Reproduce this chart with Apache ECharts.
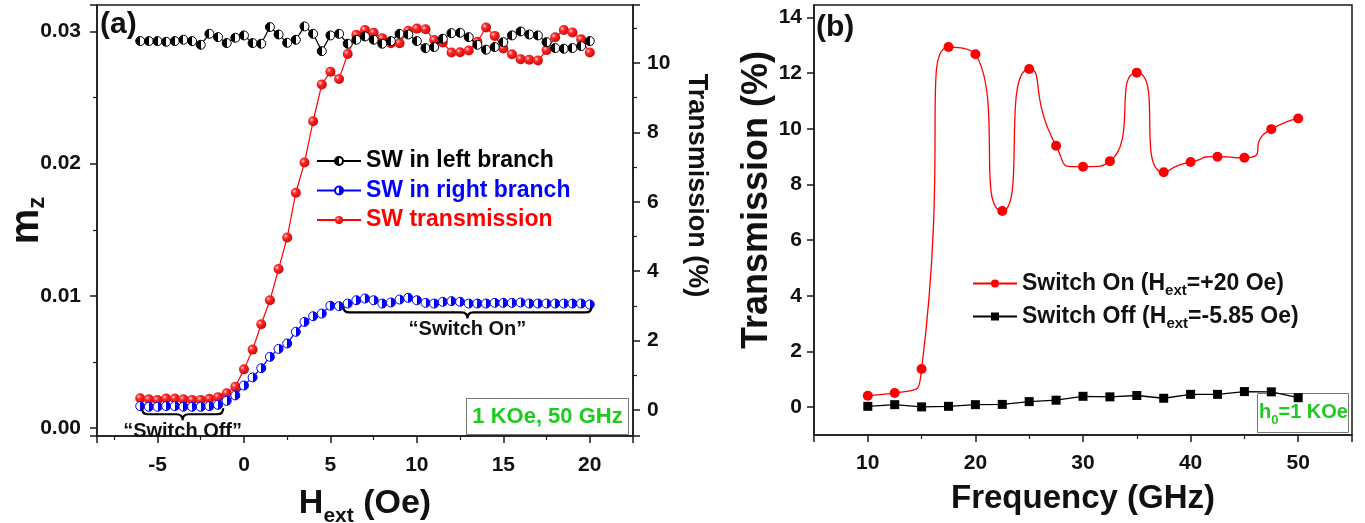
<!DOCTYPE html>
<html><head><meta charset="utf-8">
<script src="https://cdn.jsdelivr.net/npm/echarts@6/dist/echarts.min.js"></script>
<style>html,body{margin:0;padding:0;background:#fff}#c{width:1365px;height:523px}</style>
</head><body><div id="c"></div>
<script>
// ---------- Panel (a) data ----------
const hExt = [-6,-5.5,-5,-4.5,-4,-3.5,-3,-2.5,-2,-1.5,-1,-0.5,0,0.5,1,1.5,2,2.5,3,3.5,4,4.5,5,5.5,6,6.5,7,7.5,8,8.5,9,9.5,10,10.5,11,11.5,12,12.5,13,13.5,14,14.5,15,15.5,16,16.5,17,17.5,18,18.5,19,19.5,20];
const mzLeftBranch = [0.02927,0.02927,0.02927,0.02922,0.02927,0.02937,0.02927,0.02899,0.02982,0.02957,0.02912,0.02952,0.02970,0.02912,0.02907,0.03033,0.02977,0.02914,0.02937,0.03038,0.02982,0.02851,0.02970,0.02982,0.02907,0.02937,0.02962,0.02937,0.02907,0.02927,0.02982,0.02977,0.02927,0.02874,0.02882,0.02945,0.02987,0.02990,0.02957,0.02899,0.02862,0.02882,0.02919,0.02970,0.03000,0.02977,0.02970,0.02919,0.02874,0.02869,0.02874,0.02889,0.02927];
const mzRightBranch = [0.00166,0.00161,0.00161,0.00166,0.00166,0.00161,0.00161,0.00161,0.00166,0.00176,0.00206,0.00247,0.00322,0.00383,0.00453,0.00539,0.00599,0.00640,0.00728,0.00803,0.00846,0.00866,0.00925,0.00922,0.00942,0.00967,0.00980,0.00967,0.00942,0.00950,0.00972,0.00985,0.00967,0.00947,0.00942,0.00955,0.00960,0.00955,0.00942,0.00942,0.00942,0.00947,0.00947,0.00947,0.00950,0.00942,0.00942,0.00942,0.00942,0.00942,0.00942,0.00942,0.00935];
const swTransmission = [0.34,0.31,0.29,0.33,0.33,0.31,0.29,0.29,0.32,0.37,0.48,0.67,1.17,1.74,2.47,3.16,4.06,4.97,6.26,7.13,8.32,9.38,9.75,9.54,10.26,10.81,10.95,10.87,10.71,10.57,10.57,10.93,10.99,10.97,10.66,10.59,10.30,10.31,10.36,10.61,11.02,10.78,10.42,10.25,10.11,10.09,10.07,10.37,10.74,10.95,10.88,10.68,10.30];
const braceRanges = [[-5.9,-1.2,0.0015],[5.75,20.1,0.0092]];
const braceLabels = ['\u201CSwitch Off\u201D','\u201CSwitch On\u201D'];

// ---------- Panel (b) data ----------
const freq = [10,12.5,15,17.5,20,22.5,25,27.5,30,32.5,35,37.5,40,42.5,45,47.5,50];
const transOn = [0.41,0.51,1.37,12.94,12.68,7.05,12.15,9.39,8.64,8.84,12.02,8.44,8.81,9.00,8.96,9.99,10.37];
const transOff = [0.03,0.09,0.01,0.03,0.09,0.10,0.20,0.25,0.39,0.37,0.42,0.32,0.46,0.46,0.56,0.55,0.34];

const FONT = '"Liberation Sans", Arial, Helvetica, sans-serif';
const AX = '#1a1a1a';
const zip = (a, b) => a.map((v, i) => [v, b[i]]);

function half(color, leftFilled) {
  const s = leftFilled
    ? [{offset:0,color:color},{offset:0.5,color:color},{offset:0.5,color:'#fff'},{offset:1,color:'#fff'}]
    : [{offset:0,color:'#fff'},{offset:0.5,color:'#fff'},{offset:0.5,color:color},{offset:1,color:color}];
  return {type:'linear', x:0, y:0, x2:1, y2:0, colorStops:s};
}
const redBall = {type:'radial', x:0.35, y:0.35, r:0.75, colorStops:[
  {offset:0,color:'#ffd6d6'},{offset:0.3,color:'#ff2a2a'},{offset:1,color:'#c80000'}]};

function axisBase(extra) {
  return Object.assign({
    type:'value',
    axisLine:{show:true, onZero:false, lineStyle:{color:AX, width:1.5}},
    axisTick:{show:true, inside:false, length:7, lineStyle:{color:AX, width:1.5}},
    minorTick:{show:true, splitNumber:2, length:4, lineStyle:{color:AX, width:1.2}},
    splitLine:{show:false},
    minorSplitLine:{show:false}
  }, extra);
}
const lab = (margin, extra) => Object.assign({fontFamily:FONT, fontWeight:'bold', fontSize:21, color:'#111', margin:margin, showMinLabel:false, showMaxLabel:false}, extra || {});
const subStyle = (fs, lh) => ({fontSize:fs, fontWeight:'bold', fontFamily:FONT, color:'#111', lineHeight:lh, verticalAlign:'bottom'});

const chart = echarts.init(document.getElementById('c'), null, {renderer:'canvas'});
const option = {
  animation:false,
  backgroundColor:'#fff',
  textStyle:{fontFamily:FONT},
  grid:[
    {left:97, top:5, right:732, bottom:87, containLabel:false, outerBoundsMode:'none', show:true, borderColor:AX, borderWidth:1.5, backgroundColor:'transparent'},
    {left:814, top:5, right:13, bottom:88, containLabel:false, outerBoundsMode:'none', show:true, borderColor:AX, borderWidth:1.5, backgroundColor:'transparent'}
  ],
  xAxis:[
    axisBase({gridIndex:0, min:-8.5, max:22.5, splitNumber:6,
      axisLabel:lab(19),
      name:'H{sub|ext} (Oe)', nameLocation:'middle', nameGap:36,
      nameTextStyle:{fontFamily:FONT, fontWeight:'bold', fontSize:34, color:'#111', lineHeight:46, rich:{sub:subStyle(21,21)}}}),
    axisBase({gridIndex:1, min:5, max:55, splitNumber:5,
      axisLabel:lab(18),
      name:'Frequency (GHz)', nameLocation:'middle', nameGap:47,
      nameTextStyle:{fontFamily:FONT, fontWeight:'bold', fontSize:33, color:'#111'}})
  ],
  yAxis:[
    axisBase({gridIndex:0, position:'left', min:-0.0006, max:0.032, splitNumber:3,
      axisLabel:lab(16, {formatter:v => v.toFixed(2)}),
      name:'m{sub|z}', nameLocation:'middle', nameGap:48, nameMoveOverlap:false,
      nameTextStyle:{fontFamily:FONT, fontWeight:'bold', fontSize:40, color:'#111', lineHeight:44, rich:{sub:subStyle(24,24)}}}),
    axisBase({gridIndex:0, position:'right', min:-0.75, max:11.67, splitNumber:6,
      axisLabel:lab(14),
      name:'Transmission (%)', nameLocation:'middle', nameGap:50, nameRotate:-90,
      nameTextStyle:{fontFamily:FONT, fontWeight:'bold', fontSize:27, color:'#111', padding:[0,70,0,0]}}),
    axisBase({gridIndex:1, position:'left', min:-1, max:14.45, splitNumber:7,
      minorTick:{show:false},
      axisLabel:lab(12),
      name:'Transmission (%)', nameLocation:'middle', nameGap:38,
      nameTextStyle:{fontFamily:FONT, fontWeight:'bold', fontSize:36, color:'#111', padding:[0,0,0,40]}})
  ],
  legend:[
    {orient:'vertical', left:316, top:149, itemWidth:44, itemHeight:10, itemGap:5.5, padding:0,
      textStyle:{fontFamily:FONT, fontWeight:'bold', fontSize:23, lineHeight:24},
      data:[
        {name:'SW in left branch', textStyle:{color:'#000'}},
        {name:'SW in right branch', textStyle:{color:'#0000ff'}},
        {name:'SW transmission', textStyle:{color:'#ff0000'}}
      ]},
    {orient:'vertical', left:972, top:269, itemWidth:44, itemHeight:10, itemGap:4, padding:0,
      textStyle:{fontFamily:FONT, fontWeight:'bold', fontSize:23, lineHeight:29, color:'#111',
        rich:{sub:{fontFamily:FONT, fontWeight:'bold', fontSize:15, lineHeight:15, color:'#111', verticalAlign:'bottom'}}},
      formatter:n => n.replace('Hext', 'H{sub|ext}'),
      data:['Switch On (Hext=+20 Oe)', 'Switch Off (Hext=-5.85 Oe)']}
  ],
  graphic:[
    {type:'text', left:100, top:10, style:{text:'(a)', font:'bold 30px ' + FONT, fill:'#111'}},
    {type:'text', left:816, top:13, style:{text:'(b)', font:'bold 30px ' + FONT, fill:'#111'}},
    {type:'group', left:466, top:398, children:[
      {type:'rect', shape:{x:0, y:0, width:162, height:36}, style:{fill:'#fff', stroke:'#777', lineWidth:1}},
      {type:'text', x:81, y:18, style:{text:'1 KOe, 50 GHz', font:'bold 22px ' + FONT, fill:'#1ecb1e', align:'center', verticalAlign:'middle'}}
    ]},
    {type:'group', left:1257, top:393, children:[
      {type:'rect', shape:{x:0, y:0, width:91, height:39}, style:{fill:'#fff', stroke:'#777', lineWidth:1}},
      {type:'text', x:46, y:19, style:{text:'h{s|0}=1 KOe', font:'bold 20px ' + FONT, fill:'#1ecb1e', align:'center', verticalAlign:'middle',
        rich:{s:{font:'bold 13px ' + FONT, fill:'#1ecb1e', lineHeight:13, verticalAlign:'bottom'}}, lineHeight:28}}
    ]}
  ],
  series:[
    {name:'SW transmission', type:'line', xAxisIndex:0, yAxisIndex:1, data:zip(hExt, swTransmission),
      symbol:'circle', symbolSize:10, showAllSymbol:true,
      itemStyle:{color:redBall, borderWidth:0},
      lineStyle:{color:'#ff0000', width:1.2}, z:3},
    {name:'SW in right branch', type:'line', xAxisIndex:0, yAxisIndex:0, data:zip(hExt, mzRightBranch),
      symbol:'circle', symbolSize:9, showAllSymbol:true,
      itemStyle:{color:half('#0000ff', false), borderColor:'#0000ff', borderWidth:1},
      lineStyle:{color:'#0000ff', width:1.2}, z:4},
    {name:'SW in left branch', type:'line', xAxisIndex:0, yAxisIndex:0, data:zip(hExt, mzLeftBranch),
      symbol:'circle', symbolSize:9, showAllSymbol:true,
      itemStyle:{color:half('#000000', true), borderColor:'#000', borderWidth:1},
      lineStyle:{color:'#000', width:1.2}, z:5},
    {type:'custom', xAxisIndex:0, yAxisIndex:0, data:braceRanges, clip:false, silent:true, z:6,
      renderItem:function(params, api){
        const p1 = api.coord([api.value(0), api.value(2)]);
        const p2 = api.coord([api.value(1), api.value(2)]);
        const y0 = p1[1], xl = p1[0], xr = p2[0], xm = (xl + xr) / 2, h = 12, r = 6, ym = y0 + h / 2;
        const d = 'M' + xl + ',' + y0 + ' Q' + xl + ',' + ym + ' ' + (xl + r) + ',' + ym +
          ' L' + (xm - r) + ',' + ym + ' Q' + xm + ',' + ym + ' ' + xm + ',' + (y0 + h) +
          ' Q' + xm + ',' + ym + ' ' + (xm + r) + ',' + ym + ' L' + (xr - r) + ',' + ym +
          ' Q' + xr + ',' + ym + ' ' + xr + ',' + y0;
        return {type:'group', children:[
          {type:'path', shape:{pathData:d}, style:{fill:null, stroke:'#000', lineWidth:2.2}},
          {type:'text', x:xm, y:y0 + h + 1, style:{text:braceLabels[params.dataIndex], font:'bold 20px ' + FONT, fill:'#111', align:'center', verticalAlign:'top'}}
        ]};
      }},
    {name:'Switch On (Hext=+20 Oe)', type:'line', xAxisIndex:1, yAxisIndex:2, data:zip(freq, transOn),
      smooth:0.9, symbol:'circle', symbolSize:10,
      itemStyle:{color:'#ff0000'}, lineStyle:{color:'#ff0000', width:1.3}, z:4},
    {name:'Switch Off (Hext=-5.85 Oe)', type:'line', xAxisIndex:1, yAxisIndex:2, data:zip(freq, transOff),
      symbol:'rect', symbolSize:9,
      itemStyle:{color:'#000'}, lineStyle:{color:'#000', width:1.3}, z:3}
  ]
};
chart.setOption(option);
</script>
</body></html>
